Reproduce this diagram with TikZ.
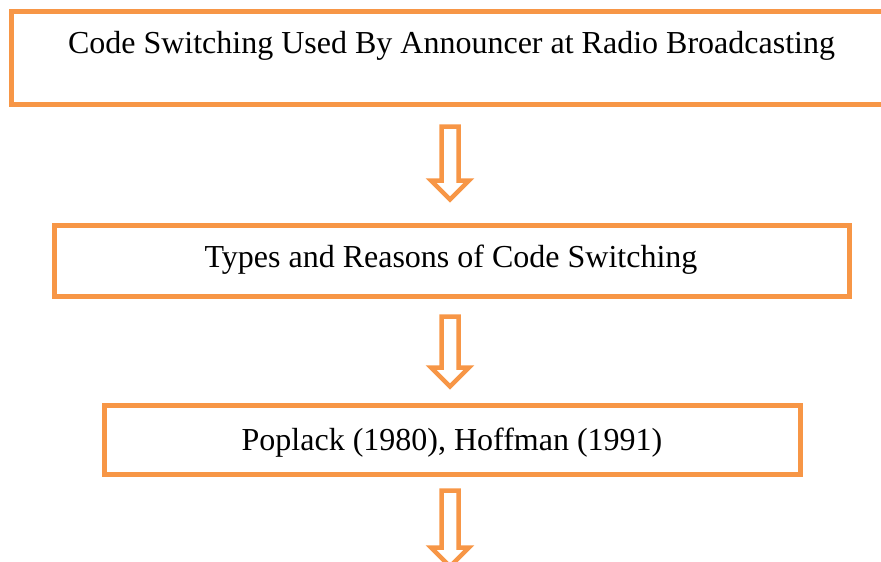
\documentclass[tikz,border=0pt]{standalone}
\usepackage{fontspec}
\setmainfont{Liberation Serif}
\definecolor{boxorange}{HTML}{F79646}
\begin{document}
\begin{tikzpicture}[x=1pt,y=-1pt,
  box/.style={draw=boxorange, line width=5pt, rectangle, inner sep=0pt, fill=none},
  lbl/.style={anchor=base, inner sep=0pt, font=\fontsize{32}{38}\selectfont, text=black},
  blockarrow/.style={draw=boxorange, line width=4.5pt, line join=miter, fill=white}]
\useasboundingbox (0,0) rectangle (881,562);
\clip (0,0) rectangle (881,562);
% boxes
\node[box, minimum width=890pt, minimum height=93pt] (b1) at (456,58) {};
\node[box, minimum width=795pt, minimum height=71pt] (b2) at (451.5,261) {};
\node[box, minimum width=696.5pt, minimum height=68.5pt] (b3) at (452.25,439.75) {};
% texts
\node[lbl] (t1) at (451.5,53.3) {Code Switching Used By Announcer at Radio Broadcasting};
\node[lbl] (t2) at (451,267.3) {Types and Reasons of Code Switching};
\node[lbl] (t3) at (452,450) {Poplack (1980), Hoffman (1991)};
% block arrows
\coordinate (a1) at (450,126.5);
\coordinate (a2) at (450,316.5);
\coordinate (a3) at (450,490.5);
\foreach \c/\len in {a1/54, a2/51, a3/57}{
  \draw[blockarrow] (\c) ++(-8.5,0) -- ++(0,\len) -- ++(-10.5,0) -- ++(19,19) -- ++(19,-19) -- ++(-10.5,0) -- ++(0,-\len) -- cycle;
}
\end{tikzpicture}
\end{document}
